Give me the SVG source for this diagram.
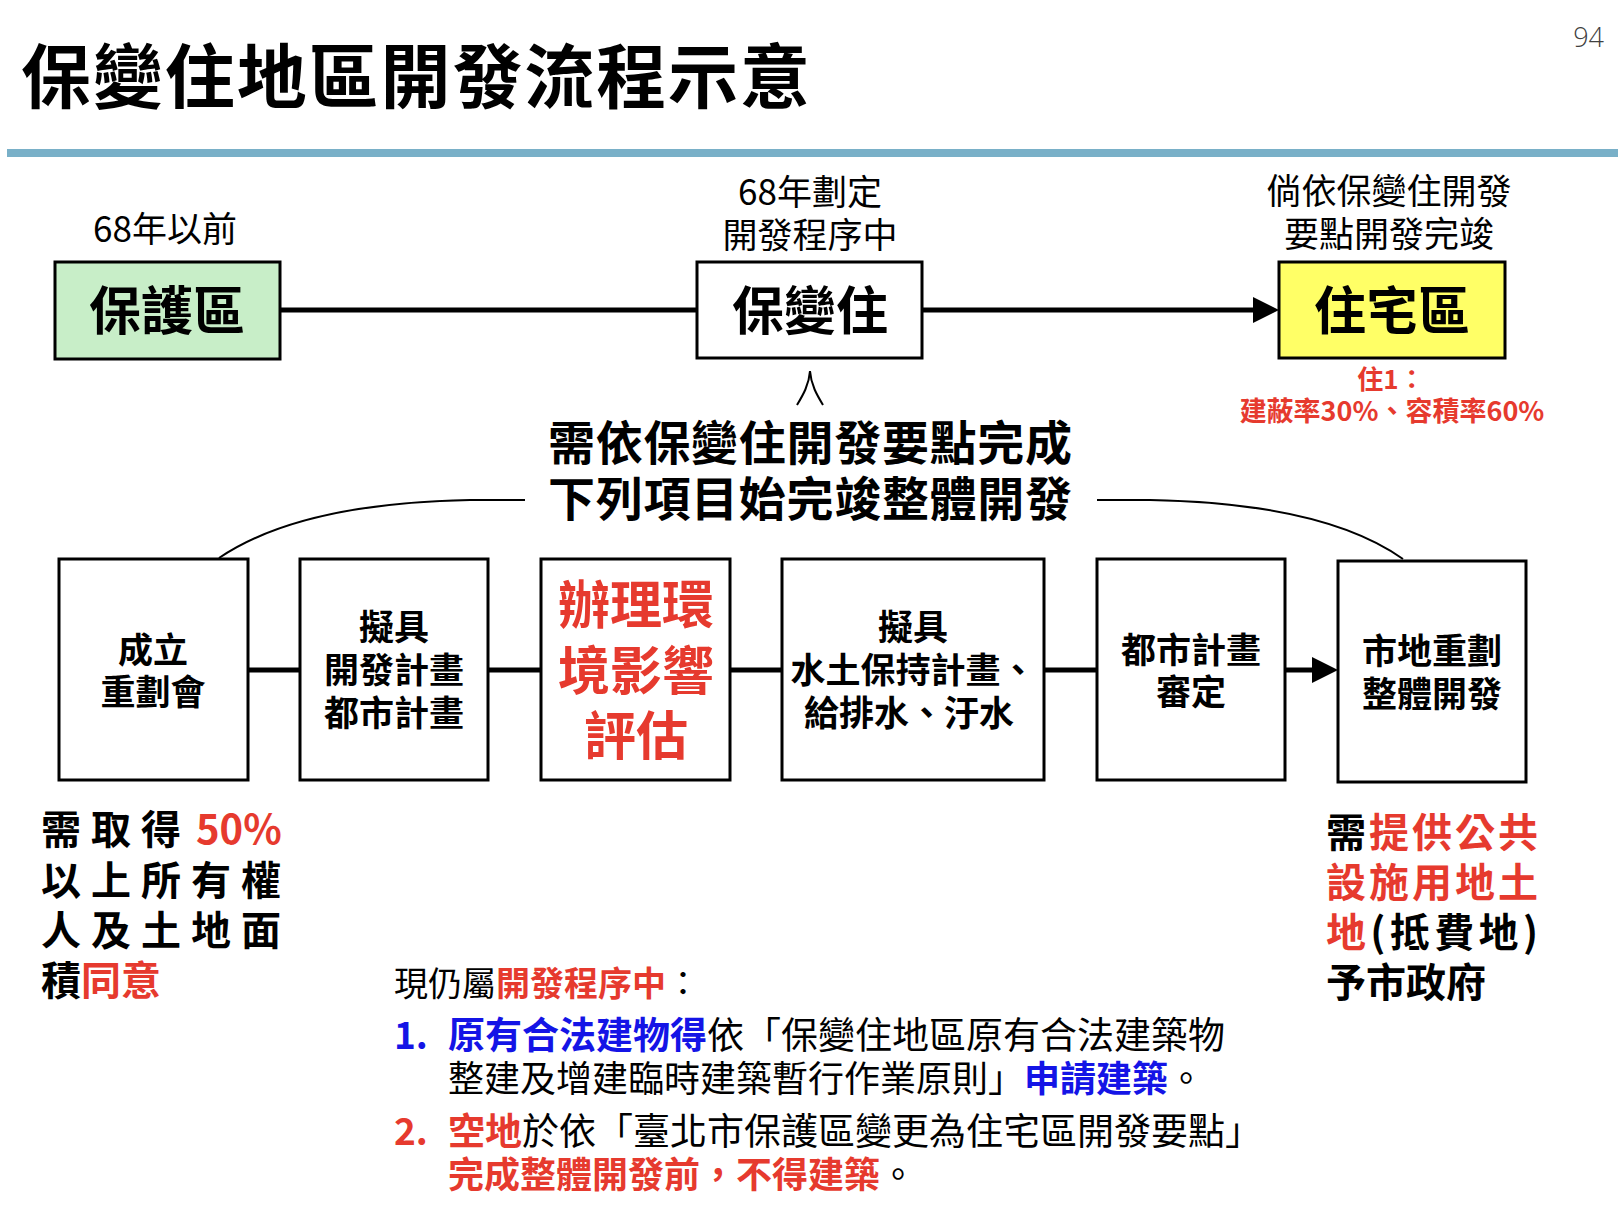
<svg xmlns="http://www.w3.org/2000/svg" width="1618" height="1210" viewBox="0 0 1618 1210">
<defs>
<style>
text{font-family:"Noto Sans CJK TC","Noto Sans CJK SC","Noto Sans CJK JP",sans-serif;fill:#000}
.b{font-weight:700}
.r{fill:#E63A2E}
.bl{fill:#1414E6}
.box{stroke:#000;stroke-width:3;fill:#fff}
.lbl{font-size:35px;text-anchor:middle}
.bt{font-size:35px;font-weight:700;text-anchor:middle}
.big{font-size:52px;font-weight:700;text-anchor:middle}
.conn{stroke:#000;stroke-width:5;fill:none}
.thin{stroke:#000;stroke-width:2;fill:none}
</style>
<marker id="ah" markerUnits="userSpaceOnUse" viewBox="0 0 26 26" refX="0" refY="13" markerWidth="26" markerHeight="26" orient="auto">
<path d="M0,0 L26,13 L0,26 z" fill="#000"/>
</marker>
</defs>
<rect width="1618" height="1210" fill="#fff"/>

<g id="header">
<text x="21" y="103" class="b" font-size="70" textLength="789">保變住地區開發流程示意</text>
<text x="1604" y="47" font-size="27" text-anchor="end" style="font-family:'Open Sans',sans-serif;font-weight:300;fill:#404040">94</text>
<rect x="7" y="149" width="1611" height="8" fill="#79B0C8"/>
</g>

<g id="connectors">
<line class="conn" x1="280" y1="310" x2="697" y2="310"/>
<line class="conn" x1="922" y1="310" x2="1253" y2="310" marker-end="url(#ah)"/>
<path class="thin" d="M797,405 C803,395 809,385 810,371 C811,385 817,395 823,405"/>
<path class="thin" d="M525,500 L470,500 C360,502 275,520 219,558"/>
<path class="thin" d="M1097,500 L1150,500 C1260,502 1348,520 1403,559"/>
<line class="conn" x1="248" y1="670" x2="300" y2="670"/>
<line class="conn" x1="488" y1="670" x2="541" y2="670"/>
<line class="conn" x1="730" y1="670" x2="782" y2="670"/>
<line class="conn" x1="1044" y1="670" x2="1097" y2="670"/>
<line class="conn" x1="1285" y1="670" x2="1312" y2="670" marker-end="url(#ah)"/>
</g>

<g id="node-baohu">
<text class="lbl" x="165" y="242">68年以前</text>
<rect x="55" y="262" width="225" height="97" stroke="#000" stroke-width="3" fill="#C8EEC8"/>
<text class="big" x="167" y="330">保護區</text>
</g>

<g id="node-baobianzhu">
<text class="lbl" x="810" y="205">68年劃定</text>
<text class="lbl" x="810" y="248">開發程序中</text>
<rect class="box" x="697" y="262" width="225" height="96"/>
<text class="big" x="810" y="330">保變住</text>
</g>

<g id="node-zhuzhai">
<text class="lbl" x="1389" y="204">倘依保變住開發</text>
<text class="lbl" x="1389" y="247">要點開發完竣</text>
<rect x="1279" y="262" width="226" height="96" stroke="#000" stroke-width="3" fill="#FFFF66"/>
<text class="big" x="1392" y="330">住宅區</text>
<text class="b r" x="1391" y="389" font-size="26" text-anchor="middle">住1：</text>
<text class="b r" x="1392" y="421" font-size="27" text-anchor="middle">建蔽率30%、容積率60%</text>
</g>

<g id="heading">
<text class="b" x="548" y="460" font-size="47" textLength="524">需依保變住開發要點完成</text>
<text class="b" x="548" y="516" font-size="47" textLength="524">下列項目始完竣整體開發</text>
</g>

<g id="step1">
<rect class="box" x="59" y="559" width="189" height="221"/>
<text class="bt" x="153" y="663">成立</text>
<text class="bt" x="153" y="705">重劃會</text>
</g>
<g id="step2">
<rect class="box" x="300" y="559" width="188" height="221"/>
<text class="bt" x="394" y="640">擬具</text>
<text class="bt" x="394" y="683">開發計畫</text>
<text class="bt" x="394" y="726">都市計畫</text>
</g>
<g id="step3">
<rect class="box" x="541" y="559" width="189" height="221"/>
<text class="big r" x="636" y="624">辦理環</text>
<text class="big r" x="636" y="690">境影響</text>
<text class="big r" x="636" y="755">評估</text>
</g>
<g id="step4">
<rect class="box" x="782" y="559" width="262" height="221"/>
<text class="bt" x="913" y="640">擬具</text>
<text class="bt" x="913" y="683">水土保持計畫、</text>
<text class="bt" x="909" y="726">給排水、汙水</text>
</g>
<g id="step5">
<rect class="box" x="1097" y="559" width="188" height="221"/>
<text class="bt" x="1191" y="663">都市計畫</text>
<text class="bt" x="1191" y="705">審定</text>
</g>
<g id="step6">
<rect class="box" x="1338" y="561" width="188" height="221"/>
<text class="bt" x="1432" y="664">市地重劃</text>
<text class="bt" x="1432" y="707">整體開發</text>
</g>

<g id="note-left" class="b" font-size="40">
<text y="844"><tspan x="41">需</tspan><tspan x="91">取</tspan><tspan x="141">得</tspan><tspan x="196" class="r">50%</tspan></text>
<text y="895"><tspan x="41">以</tspan><tspan x="91">上</tspan><tspan x="141">所</tspan><tspan x="191">有</tspan><tspan x="241">權</tspan></text>
<text y="945"><tspan x="41">人</tspan><tspan x="91">及</tspan><tspan x="141">土</tspan><tspan x="191">地</tspan><tspan x="241">面</tspan></text>
<text y="995" x="41">積<tspan class="r">同意</tspan></text>
</g>

<g id="note-right" class="b" font-size="40">
<text x="1326" y="847" textLength="212">需<tspan class="r">提供公共</tspan></text>
<text x="1326" y="897" textLength="212" class="r">設施用地土</text>
<text x="1326" y="947" textLength="212"><tspan class="r">地</tspan>(抵費地)</text>
<text x="1326" y="997">予市政府</text>
</g>

<g id="note-bottom">
<text x="394" y="996" font-size="34">現仍屬<tspan class="b r">開發程序中</tspan>：</text>
<text x="394" y="1049" font-size="37" class="b bl">1.</text>
<text x="448" y="1049" font-size="37"><tspan class="b bl">原有合法建物得</tspan>依「保變住地區原有合法建築物</text>
<text x="448" y="1092" font-size="36">整建及增建臨時建築暫行作業原則」<tspan class="b bl">申請建築</tspan>。</text>
<text x="394" y="1145" font-size="37" class="b r">2.</text>
<text x="448" y="1145" font-size="37"><tspan class="b r">空地</tspan>於依「臺北市保護區變更為住宅區開發要點」</text>
<text x="448" y="1188" font-size="36"><tspan class="b r">完成整體開發前，不得建築</tspan>。</text>
</g>
</svg>
